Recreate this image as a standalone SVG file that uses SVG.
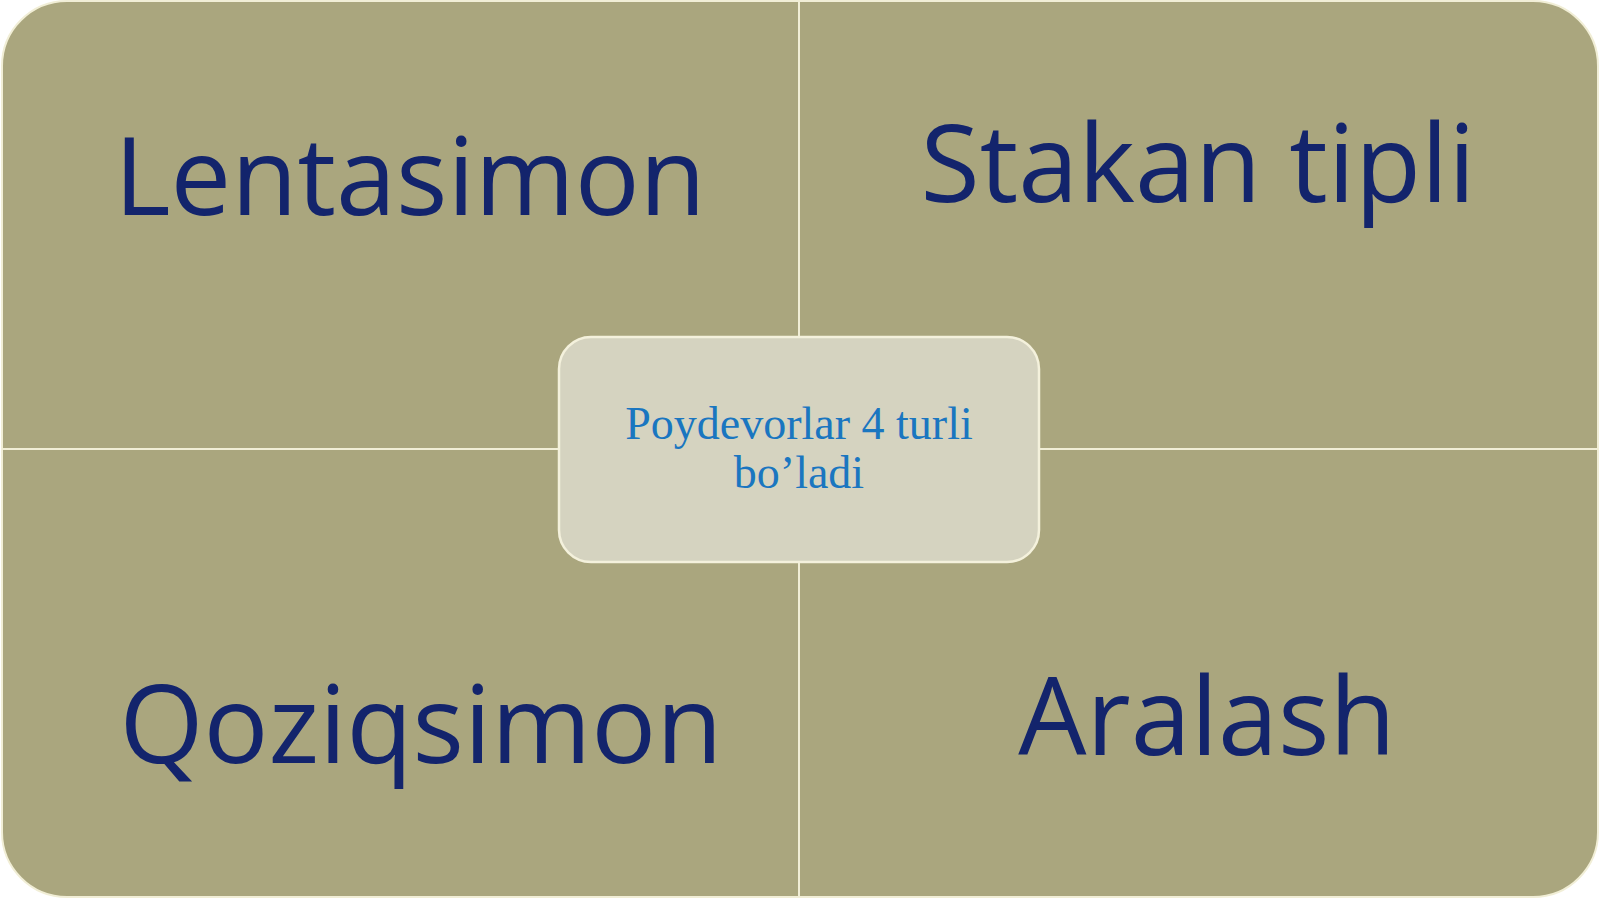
<svg xmlns="http://www.w3.org/2000/svg" width="1600" height="899" viewBox="0 0 1600 899">
  <style>
    .quad { fill: #aaa67e; stroke: #f1eed6; stroke-width: 2; }
    .qtext { font-family: "Open Sans", "Noto Sans", "DejaVu Sans", sans-serif; font-size: 108px; fill: #13246c; text-anchor: middle; }
    .center { fill: #d5d3c0; stroke: #f4f1dc; stroke-width: 2.5; }
    .ctext { font-family: "Liberation Serif", "Times New Roman", serif; font-size: 46px; fill: #1a76c0; text-anchor: middle; }
  </style>
  <rect x="0" y="0" width="1600" height="899" fill="#ffffff"/>
  <g id="quad-lentasimon">
    <path class="quad" d="M2,449 V66 A65,65 0 0 1 67,1 H799 V449 Z"/>
    <text class="qtext" x="410" y="215">Lentasimon</text>
  </g>
  <g id="quad-stakan">
    <path class="quad" d="M799,1 H1533 A65,65 0 0 1 1598,66 V449 H799 Z"/>
    <text class="qtext" x="1198" y="202">Stakan tipli</text>
  </g>
  <g id="quad-qoziqsimon">
    <path class="quad" d="M2,449 H799 V897 H67 A65,65 0 0 1 2,832 Z"/>
    <text class="qtext" x="421" y="763">Qoziqsimon</text>
  </g>
  <g id="quad-aralash">
    <path class="quad" d="M799,449 H1598 V832 A65,65 0 0 1 1533,897 H799 Z"/>
    <text class="qtext" x="1207" y="755">Aralash</text>
  </g>
  <g id="connectors"></g>
  <g id="center-node">
    <rect class="center" x="559" y="337" width="480" height="225" rx="32" ry="32"/>
    <text class="ctext" x="799" y="439">Poydevorlar 4 turli</text>
    <text class="ctext" x="799" y="488">bo’ladi</text>
  </g>
</svg>
